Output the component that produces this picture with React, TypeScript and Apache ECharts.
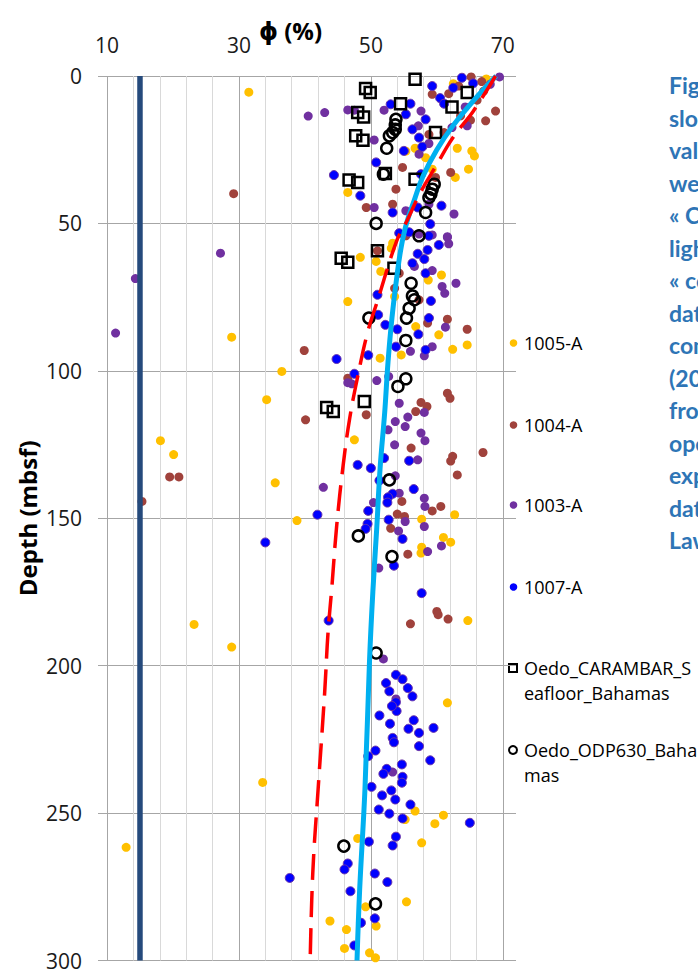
import React, { useEffect, useRef } from "react";
import * as echarts from "echarts";

// ---- axis ticks ----
const phiTickLabels = [10, 30, 50, 70];
const depthTickLabels = [0, 50, 100, 150, 200, 250, 300];

// ---- scatter data: [phi (%), depth (mbsf)] ----
const site1005A: [number, number][] = [
  [31.5, 5.5], [46.5, 39.5], [46.5, 76.5], [28.9, 88.6], [36.5, 100.2], [34.2, 109.8], [18.1, 123.7],
  [20.1, 128.4], [35.5, 138], [38.8, 150.8], [23.2, 186], [28.9, 193.7], [33.6, 239.6], [12.9, 261.6],
  [62.5, 2.6], [67.5, 1], [63.1, 24.5], [65.3, 25.4], [65.7, 27.1], [58.3, 27.7], [64.8, 31.6], [62.8, 34.4],
  [59.3, 31.6], [56.7, 24.5], [55.3, 25.5],
  [53.3, 56.7], [53.1, 58.4], [50.8, 62.9], [51.5, 66.3], [48.4, 61.5], [60.7, 67.5], [58.7, 69.2], [53.6, 74.8],
  [56.8, 85], [60.3, 87.8], [64.6, 91.2], [62.4, 92.7], [54.6, 94.6], [51.4, 95.7], [47.5, 123.4],
  [57.7, 150.3], [62.7, 148.8], [61, 156.5], [62.1, 158.1], [57.7, 159.8], [57.6, 161.8], [64.7, 184.7], [61.6, 212.6],
  [56.7, 249.3], [55.2, 252.2], [61, 250.7], [59.7, 253.6], [48, 258.6], [57.7, 260.1], [49.2, 281.8], [55.4, 280.1],
  [43.8, 286.6], [46.3, 289.5], [50.8, 288.3], [46, 295.9], [49.8, 297.4], [50.7, 299.1],
];

const site1004A: [number, number][] = [
  [29.2, 39.9], [39.9, 93.1], [40.1, 116.6], [19.5, 136], [20.9, 136], [15.3, 144.3], [46.5, 102.5],
  [65.2, 0.3], [63.3, 3.4], [66.8, 1.9], [67.1, 5.1], [66.1, 8.2], [68.9, 11.9], [67.4, 15.2], [65.1, 15],
  [59.3, 6.2], [61.8, 6], [63.6, 13.5], [61.1, 19.2], [58.8, 19.8], [62.1, 32.7], [59.8, 34.4], [54.8, 31],
  [49.3, 44.6], [53.3, 43.5], [53.8, 38.4], [55.3, 54.2],
  [51, 59.3], [54.3, 66.9], [53.6, 72], [57.3, 75.9], [61.6, 82.5], [64.6, 85.9], [58.6, 83.8], [61.6, 107.6],
  [62, 109.3], [57.6, 110.7], [58.5, 112.1], [56.8, 113.8], [49.3, 114.9], [56.1, 126.2], [67, 127.7], [62.4, 129],
  [62.1, 130.6], [63.1, 135.3], [54.7, 144.3], [59.3, 147.5], [60.6, 146], [54, 148.6], [55.1, 149.4], [53, 153.4],
  [55.6, 162.2], [60, 181.6], [60.2, 182.7], [61.7, 184.2], [56, 185.8],
];

const site1003A: [number, number][] = [
  [40.5, 13.6], [43, 12.4], [46.5, 11.5], [27.2, 60.1], [14.3, 68.7], [11.3, 87.2], [46.5, 104],
  [69.5, 0.3], [68.1, 2.8], [64.3, 10.5], [64.6, 16.9], [62.3, 17.5], [47.5, 11.6], [50.5, 21.7], [57.3, 26.5],
  [58.8, 22.9], [52, 11.6], [57.2, 16.9], [57.6, 11.9], [50.5, 44.6], [55.3, 45.7], [58.8, 43.5], [62.6, 46.8],
  [61.6, 54.7], [57.3, 53.6],
  [59.3, 53.9], [61.6, 54.5], [61.8, 56.9], [56.6, 64.6], [59.3, 66], [62.9, 70.3], [60.8, 71.4], [61.2, 73.7],
  [61.3, 85.2], [59.3, 91.8], [58.1, 94.9], [56, 93.4], [47.1, 104.4], [50.9, 103.3], [52.7, 101.9], [54.3, 111],
  [58.1, 114.1], [53.7, 117.2], [55.6, 115.7], [55.2, 118.9], [52.6, 120], [57.6, 121.1], [58.2, 123.7],
  [53.6, 125.1], [57.1, 130.2],
  [53.7, 135.6], [42.8, 139.5], [54.3, 141.5], [50.4, 144.7], [58.1, 143.2], [58.2, 146], [55.2, 151.1],
  [58.1, 152.8], [54.2, 154.3], [60.7, 159.4], [58.6, 161.3], [51.2, 166.9], [51.9, 197.7], [53.8, 211.3], [53.3, 236.1],
];

const site1007A: [number, number][] = [
  [44.4, 33.6], [44.8, 96], [34, 158.2], [37.7, 272],
  [63.8, 0.6], [65.5, 2.5], [62.5, 4], [60.5, 7.5], [59.3, 3.4], [61.1, 9.4], [58.3, 14.7], [57.3, 20.9],
  [56.3, 18.1], [55.3, 13], [56, 9.4], [53, 9.6], [57.8, 24], [55, 25.4], [50.8, 29.3], [57.6, 33.3], [48.4, 40.6],
  [53.3, 46.3], [57.1, 44.6], [60.7, 44], [59, 50.2], [55.8, 53], [58.8, 54.2],
  [54.3, 53.3], [60.3, 57.3], [57.1, 60.3], [58.6, 59], [58.1, 62.1], [56.3, 63.5], [58.3, 66.9], [59.1, 76.3],
  [51, 74.2], [51.1, 81], [58.8, 82.1], [52.2, 84.4], [54, 85.9], [57.2, 87.6], [58.3, 92.9], [53.8, 91.8],
  [49.6, 94.7], [47.5, 101], [55.8, 130.5], [52, 129.6], [48, 131.9], [50, 133],
  [51.3, 137.2], [56.5, 140.1], [53.3, 141.7], [52.6, 142.9], [52.5, 144.7], [41.9, 148.8], [49.6, 147.5],
  [52.7, 150.5], [49.5, 151.9], [49.2, 153.6], [54.8, 157], [53.5, 166.1], [57.7, 175.4], [43.6, 184.7],
  [53.8, 203.1], [54.8, 204.6], [52.3, 205.9], [55.6, 207.6], [52.8, 208.7], [56.3, 210.4],
  [53.8, 212.4], [53.9, 215.4], [53.2, 213.7], [51.3, 216.9], [52.9, 219.7], [56.5, 218.5], [55.7, 221.4],
  [57.3, 222.8], [59.5, 221.1], [53.3, 224.5], [53.5, 226], [57.3, 227.3], [50.7, 228.8], [49.6, 230.7],
  [59, 232.1], [54.7, 233.5], [52.4, 235], [51.9, 236.7], [54.8, 237.7], [54.7, 239.7], [50.1, 241.1],
  [53.1, 242.3], [51.7, 244], [53.7, 245.4], [56, 247.1], [51.2, 248.8], [52.8, 250.2], [54.8, 251.8],
  [65, 253.3], [53.8, 258], [53.3, 261], [49.7, 259.7], [46.5, 267.1], [46, 269.1], [50.6, 270.5],
  [52.5, 273.4], [46.9, 276.5], [50.6, 285.7], [48.5, 287.2], [47.5, 294.9],
];

const oedoCarambar: [number, number][] = [
  [56.7, 1.1], [49.2, 4.2], [49.9, 5.6], [54.5, 9.4], [48, 12.4], [48.9, 13.9], [64.6, 5.6], [62.3, 10.5],
  [47.7, 20.3], [48.8, 21.8], [59.8, 19.2], [46.7, 35.3], [48, 36.1], [52.2, 33.1], [56.7, 35], [51, 59.3],
  [45.5, 61.8], [46.5, 63.2], [53.5, 65.2], [43.3, 112.4], [44.3, 113.8], [49, 110.4],
];

const oedoOdp630: [number, number][] = [
  [53.8, 14.7], [53.7, 16.6], [53.7, 18.1], [53.3, 19.2], [52.8, 20.3], [52.4, 24.5], [51.9, 33.3], [50.8, 50],
  [57.3, 54.2], [59.6, 36.7], [59.3, 38.4], [59.1, 40], [58.8, 41.2], [58.3, 46.3], [56.1, 70.3], [56.3, 74.6],
  [56.6, 75.9], [55.8, 78.8], [55.4, 82.1], [49.7, 82.1], [55.3, 89.7], [55.3, 102.7], [54.1, 105.3],
  [52.8, 137], [48.1, 156], [53.2, 163], [50.8, 195.7], [45.9, 261.2], [50.7, 280.8],
];

// ---- curves ----
const constPhi = [15, 15];
const constDepth = [0, 300];

const redDepth = [0, 12, 21, 30, 40, 49, 56, 77, 87, 102, 116, 132, 153, 173, 189, 209, 242, 270, 300];
const redPhi = [68.9, 65.5, 62.4, 60, 57.4, 55.5, 53.9, 50.9, 49.5, 48, 46.8, 45.8, 44.8, 44.1, 43.5, 43, 42, 41.2, 40.8];

const blueDepth = [0, 8.5, 17, 25, 34, 42, 50, 58, 67, 82, 97, 114, 133, 153, 175, 198, 242, 276, 300];
const bluePhi = [69, 65.5, 62.4, 60, 57.9, 56.6, 55.4, 54.6, 54.0, 53.2, 52.6, 52.1, 51.4, 50.9, 50.3, 49.8, 49.1, 48.3, 47.9];

// ---- legend + caption texts ----
const legendNames = ["1005-A", "1004-A", "1003-A", "1007-A", "Oedo_CARAMBAR_Seafloor_Bahamas", "Oedo_ODP630_Bahamas"];
const legendLines = [["1005-A"], ["1004-A"], ["1003-A"], ["1007-A"], ["Oedo_CARAMBAR_S", "eafloor_Bahamas"], ["Oedo_ODP630_Baha", "mas"]];
const captionLines = [
  "Figure", "slope", "values", "were", "« Carbonate", "light", "« compaction", "data",
  "compiled", "(2004)", "from", "open", "exposed", "data", "Lawrence",
];

const colors = {
  y1005: "#FFC000",
  b1004: "#A0423C",
  p1003: "#7030A0",
  n1007: "#0000FF",
};

const FONT = "'Open Sans', 'Noto Sans', sans-serif";

function pairs(xs: number[], ys: number[]) {
  return xs.map((x, i) => [x, ys[i]]);
}

export default function App() {
  const ref = useRef<HTMLDivElement>(null);

  useEffect(() => {
    if (!ref.current) return;
    const chart = echarts.init(ref.current, null, { renderer: "svg" });

    const minorColors: string[] = [];
    for (let i = 0; i < 16; i++) minorColors.push(i % 5 === 0 ? "#A6A6A6" : "#D9D9D9");
    minorColors.push("rgba(0,0,0,0)");

    const legendYs = [343, 425, 505, 587, 668, 750];
    const legendGraphics: any[] = [];
    legendNames.forEach((name, i) => {
      const y = legendYs[i];
      if (i < 4) {
        const c = [colors.y1005, colors.b1004, colors.p1003, colors.n1007][i];
        legendGraphics.push({ type: "circle", shape: { cx: 513.5, cy: y, r: 3.8 }, style: { fill: c } });
      } else if (i === 4) {
        legendGraphics.push({
          type: "rect",
          shape: { x: 509, y: y - 4, width: 8, height: 8 },
          style: { fill: "none", stroke: "#000", lineWidth: 2 },
        });
      } else {
        legendGraphics.push({
          type: "circle",
          shape: { cx: 513, cy: y, r: 4 },
          style: { fill: "none", stroke: "#000", lineWidth: 2 },
        });
      }
      legendGraphics.push({
        type: "text",
        x: 524,
        y: y - 12.5,
        style: {
          text: legendLines[i].join("\n"),
          font: `18px ${FONT}`,
          fill: "#000",
          lineHeight: 25,
          textAlign: "left",
          textVerticalAlign: "top",
        },
      });
    });

    const scatterBase = { type: "scatter", xAxisIndex: 0, symbol: "circle", symbolSize: 9 };

    const option: any = {
      animation: false,
      backgroundColor: "#fff",
      grid: { left: 107, top: 76, right: 182, bottom: 10, containLabel: false },
      xAxis: [
        {
          type: "value",
          position: "top",
          min: 10,
          max: 72,
          interval: 20,
          name: "ϕ (%)",
          nameLocation: "middle",
          nameGap: 34,
          nameMoveOverlap: false,
          nameTextStyle: {
            fontFamily: "'Open Sans', 'DejaVu Sans', sans-serif",
            fontWeight: "bold",
            fontSize: 24,
            color: "#000",
            padding: [0, 42, 0, 0],
          },
          axisLine: { show: false },
          axisTick: { show: false },
          splitLine: { show: false },
          axisLabel: {
            show: true,
            margin: 21,
            fontSize: 21,
            fontFamily: FONT,
            color: "#1a1a1a",
            showMaxLabel: false,
            formatter: (v: number) => (phiTickLabels.includes(v) ? String(v) : ""),
          },
        },
        {
          type: "value",
          position: "bottom",
          min: 10,
          max: 72,
          interval: 4,
          axisLine: { show: false },
          axisTick: { show: false },
          axisLabel: { show: false },
          splitLine: { show: true, showMaxLine: false, lineStyle: { color: minorColors, width: 1 } },
        },
      ],
      yAxis: {
        type: "value",
        inverse: true,
        min: 0,
        max: 300,
        interval: 50,
        name: "Depth (mbsf)",
        nameLocation: "middle",
        nameGap: 68,
        nameRotate: 90,
        nameMoveOverlap: false,
        nameTextStyle: { fontFamily: FONT, fontWeight: "bold", fontSize: 24, color: "#000" },
        axisLine: { show: false },
        axisTick: { show: true, length: 9, lineStyle: { color: "#A6A6A6" } },
        splitLine: { show: true, lineStyle: { color: "#A6A6A6", width: 1 } },
        axisLabel: {
          margin: 25,
          fontSize: 21,
          fontFamily: FONT,
          color: "#1a1a1a",
          formatter: (v: number) => (depthTickLabels.includes(v) ? String(v) : ""),
        },
      },
      series: [
        { ...scatterBase, name: legendNames[0], data: site1005A, itemStyle: { color: colors.y1005, opacity: 1 } },
        { ...scatterBase, name: legendNames[1], data: site1004A, itemStyle: { color: colors.b1004, opacity: 1 } },
        { ...scatterBase, name: legendNames[2], data: site1003A, itemStyle: { color: colors.p1003, opacity: 1 } },
        {
          ...scatterBase, name: legendNames[3], data: site1007A,
          itemStyle: { color: colors.n1007, borderColor: "#6A35A8", borderWidth: 1, opacity: 1 },
        },
        {
          type: "scatter", xAxisIndex: 0, name: legendNames[4], data: oedoCarambar, symbol: "rect", symbolSize: 11,
          itemStyle: { color: "rgba(0,0,0,0)", borderColor: "#000", borderWidth: 2.5, opacity: 1 },
        },
        {
          type: "scatter", xAxisIndex: 0, name: legendNames[5], data: oedoOdp630, symbol: "circle", symbolSize: 11,
          itemStyle: { color: "rgba(0,0,0,0)", borderColor: "#000", borderWidth: 2.5, opacity: 1 },
        },
        {
          name: "ϕ = 15 %", type: "line", xAxisIndex: 0, data: pairs(constPhi, constDepth), showSymbol: false,
          lineStyle: { color: "#254A7C", width: 5.5 },
        },
        {
          name: "Fit (light blue)", type: "line", xAxisIndex: 0, data: pairs(bluePhi, blueDepth), showSymbol: false,
          smooth: 0.4, lineStyle: { color: "#00B0F0", width: 5 },
        },
        {
          name: "Compaction trend (red dashed)", type: "line", xAxisIndex: 0, data: pairs(redPhi, redDepth),
          showSymbol: false, smooth: 0.4, lineStyle: { color: "#FF0000", width: 3.5, type: [26, 11] },
        },
      ],
      graphic: [
        ...legendGraphics,
        {
          type: "text",
          x: 669,
          y: 69,
          style: {
            text: captionLines.join("\n"),
            font: "bold 23px Lato, 'Open Sans', sans-serif",
            fill: "#2E75B6",
            lineHeight: 32.5,
            textAlign: "left",
            textVerticalAlign: "top",
          },
        },
      ],
    };

    chart.setOption(option);
    return () => chart.dispose();
  }, []);

  return (
    <div
      ref={ref}
      style={{ position: "fixed", left: 0, top: 0, width: 698, height: 971, background: "#fff" }}
    />
  );
}
